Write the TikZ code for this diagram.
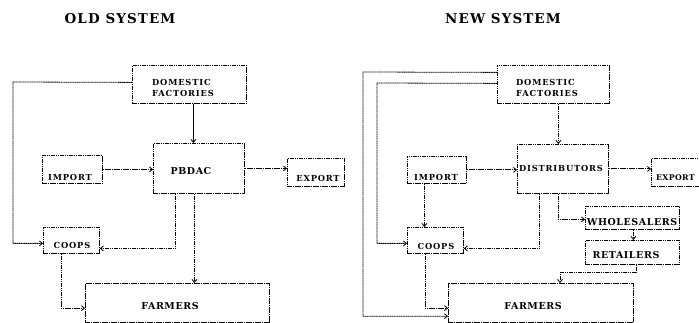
\documentclass[tikz,border=0pt]{standalone}
\usepackage{fontspec}
\setmainfont{DejaVu Serif}
\newfontfamily\titlefont{DejaVu Serif}[LetterSpace=8]
\newfontfamily\labfont{DejaVu Serif}[LetterSpace=10]
\newfontfamily\tightfont{DejaVu Serif}[LetterSpace=4]
\newfontfamily\bigfont{DejaVu Serif}[LetterSpace=6]
\usetikzlibrary{arrows.meta,calc}
\tikzset{
  box/.style={draw, dash pattern=on 1.3pt off 0.5pt, line width=0.8pt, inner sep=0pt, anchor=north west},
  lab/.style={font=\labfont\bfseries\fontsize{8.3}{11}\selectfont, inner sep=0pt},
  big/.style={font=\bigfont\bfseries\fontsize{9.5}{11}\selectfont, inner sep=0pt},
  ttl/.style={font=\titlefont\bfseries\fontsize{13.5}{15}\selectfont, inner sep=0pt},
  conn/.style={dash pattern=on 1.3pt off 0.5pt, line width=0.8pt, -{Straight Barb[length=3pt,width=5pt]}},
  solidconn/.style={line width=0.8pt, -{Straight Barb[length=3pt,width=5pt]}},
  seg/.style={dash pattern=on 1.3pt off 0.5pt, line width=0.8pt}
}
\begin{document}
\begin{tikzpicture}[x=1pt,y=-1pt]
\useasboundingbox (0,0) rectangle (699,323);
\clip (0,0) rectangle (699,323);
% titles
\node[ttl] (tol) at (120,18.5) {OLD SYSTEM};
\node[ttl] (tnw) at (503,18.5) {NEW SYSTEM};

% ---------- OLD SYSTEM ----------
\node[box, minimum width=114pt, minimum height=38pt] (dfo) at (132,65) {};
\node[box, minimum width=91pt, minimum height=50pt] (pb) at (153,143) {};
\node[box, minimum width=60pt, minimum height=28pt] (imo) at (42,155) {};
\node[box, minimum width=57pt, minimum height=28pt] (exo) at (287,158) {};
\node[box, minimum width=56pt, minimum height=26pt] (coo) at (43,227) {};
\node[box, minimum width=184pt, minimum height=38.5pt] (fao) at (85,283) {};

\node[lab, align=left, anchor=west] (dfot) at (152,88) {DOMESTIC\\FACTORIES};
\node[big] (pbt) at (191,171) {PBDAC};
\node[lab] (imot) at (70,177) {IMPORT};
\node[lab] (exot) at (318,178) {EXPORT};
\node[lab] (coot) at (72,245) {COOPS};
\node[big] (faot) at (170,306) {FARMERS};

\draw[solidconn] ($(dfo.south)+(4,0)$) -- ($(pb.north)+(-5.5,0)$);
\draw[conn] (imo.east) -- (imo.east -| pb.west);
\draw[conn] (pb.east) -- (pb.east -| exo.west);
\coordinate (lo) at (13,82);
\draw[conn] ($(dfo.west)+(0,-2)$) -- (lo) |- ($(coo.west)+(0,3)$);
\draw[conn] ($(pb.south)+(-23.5,0)$) |- ($(coo.east)+(0,8)$);
\draw[conn] ($(pb.south)+(-4.5,0)$) coordinate (po) -- (po |- fao.north);
\draw[conn] ($(coo.south)+(-10,0)$) |- ($(fao.west)+(0,5.5)$);

% ---------- NEW SYSTEM ----------
\node[box, minimum width=112pt, minimum height=38pt] (dfn) at (497,65) {};
\node[box, minimum width=91pt, minimum height=49pt] (di) at (517,144) {};
\node[box, minimum width=59pt, minimum height=27pt] (imn) at (407,156) {};
\node[box, minimum width=57pt, minimum height=28pt] (exn) at (651,158) {};
\node[box, minimum width=56pt, minimum height=26pt] (con) at (407,227) {};
\node[box, minimum width=94pt, minimum height=23pt] (wh) at (585,206) {};
\node[box, minimum width=94pt, minimum height=24pt] (re) at (585,240) {};
\node[box, minimum width=185pt, minimum height=38.5pt] (fan) at (448,283) {};

\node[lab, align=left, anchor=west] (dfnt) at (516,88) {DOMESTIC\\FACTORIES};
\node[lab] (dit) at (561,168) {DISTRIBUTORS};
\node[font=\tightfont\bfseries\fontsize{7.8}{10}\selectfont, inner sep=0pt, anchor=west] (exnt) at (656,178) {EXPORT};
\node[lab] (imnt) at (436,177) {IMPORT};
\node[lab] (cont) at (436,246) {COOPS};
\node[big] (wht) at (632,222) {WHOLESALERS};
\node[big] (ret) at (626,255) {RETAILERS};
\node[big] (fant) at (533,306) {FARMERS};

\draw[conn] ($(dfn.south)+(5,0)$) -- ($(di.north)+(-4.5,0)$);
\draw[conn] (imn.east) -- (imn.east -| di.west);
\draw[conn] (di.east) -- (di.east -| exn.west);
\coordinate (no) at (363,72);
\draw[conn] ($(dfn.west)+(0,-12)$) -- (no) |- ($(fan.west)+(0,13.5)$);
\coordinate (ni) at (377,83);
\draw[conn] ($(dfn.west)+(0,-1)$) -- (ni) |- ($(con.west)+(0,3)$);
\draw[conn] ($(imn.south)+(-12.5,0)$) coordinate (ic) -- (ic |- con.north);
\draw[conn] ($(di.south)+(-23.5,0)$) |- ($(con.east)+(0,8)$);
\draw[conn] ($(di.south)+(-4.5,0)$) |- ($(wh.west)+(0,1.5)$);
\draw[conn] ($(wh.south)+(1,0)$) coordinate (wr) -- (wr |- re.north);
\coordinate (rb) at (560,272);
\draw[seg] ($(re.south)+(4,0)$) coordinate (rs) -- (rs |- rb) -- (rb);
\draw[conn] (rb) -- (rb |- fan.north);
\draw[conn] ($(con.south)+(-10,0)$) |- ($(fan.west)+(0,5.5)$);
\end{tikzpicture}
\end{document}
